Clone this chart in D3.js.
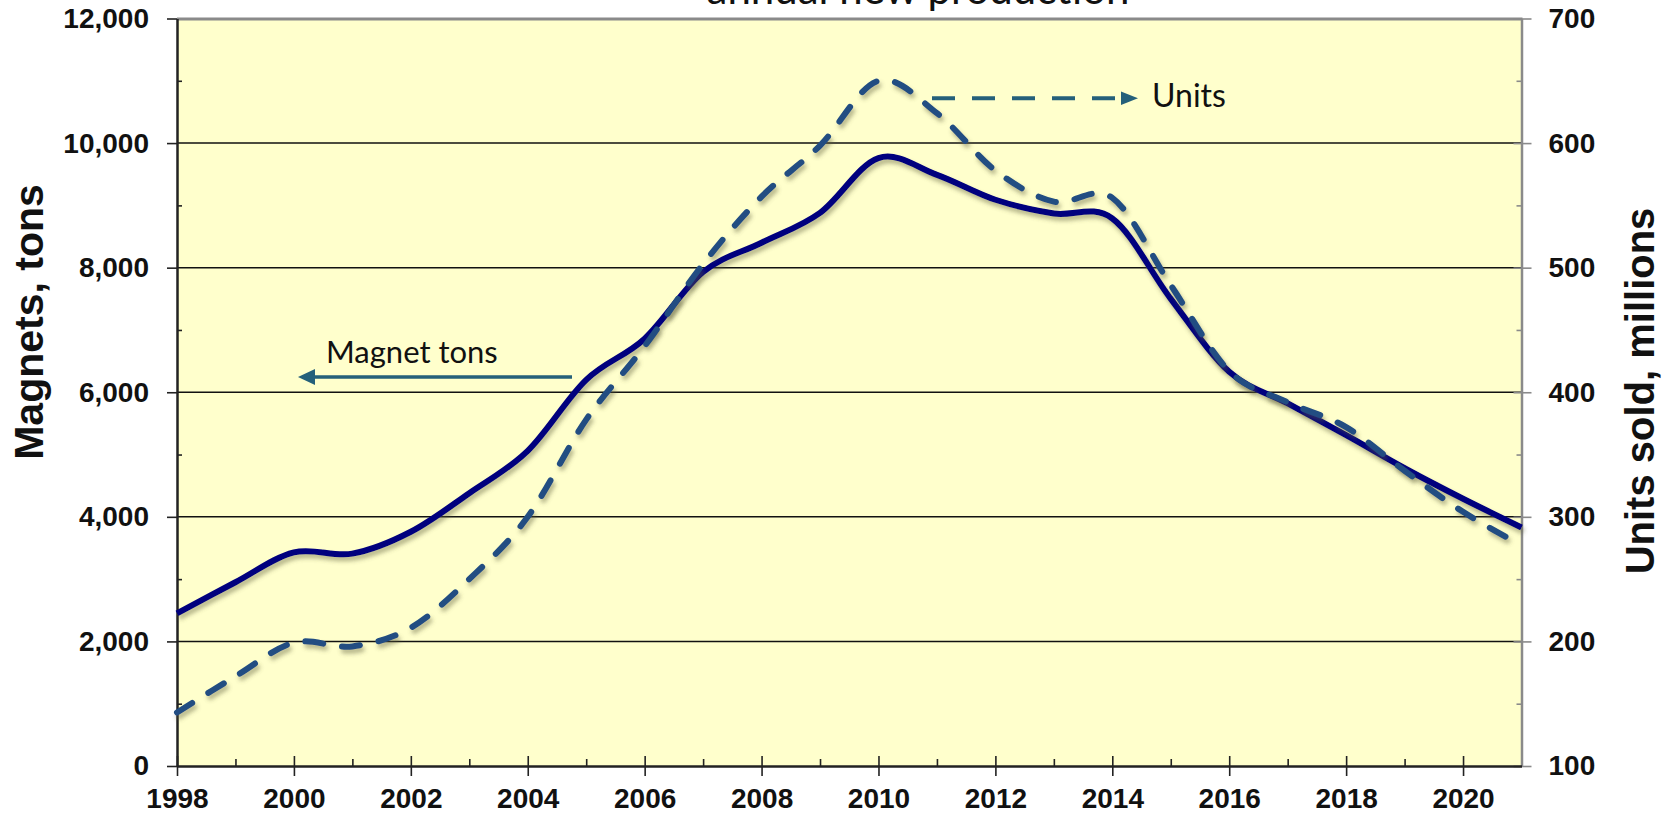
<!DOCTYPE html>
<html>
<head>
<meta charset="utf-8">
<script src="https://cdn.jsdelivr.net/npm/d3@7"></script>
<style>
  html, body { margin: 0; padding: 0; background: #ffffff; }
  svg { display: block; }
</style>
</head>
<body>
<svg id="chart" width="1673" height="816"></svg>
<script>
// ---------------- data ----------------
const years = [1998,1999,2000,2001,2002,2003,2004,2005,2006,2007,2008,2009,2010,2011,2012,2013,2014,2015,2016,2017,2018,2019,2020,2021];
const magnetTons = [2450,2950,3430,3410,3760,4380,5060,6200,6860,7930,8400,8880,9760,9490,9090,8870,8790,7500,6330,5820,5310,4780,4290,3830];
const unitsSold = [143,172,199,196,211,250,300,378,437,503,557,598,650,624,578,553,556,486,417,392,372,337,304,277];
const tonTicks = [0,2000,4000,6000,8000,10000,12000];
const tonMinorTicks = [1000,3000,5000,7000,9000,11000];
const unitTicks = [100,200,300,400,500,600,700];
const unitMinorTicks = [150,250,350,450,550,650];
const yearTicks = [1998,2000,2002,2004,2006,2008,2010,2012,2014,2016,2018,2020];
const titleText = "annual new production";
const leftTitle = "Magnets, tons";
const rightTitle = "Units sold, millions";
const magnetLabel = "Magnet tons";
const unitsLabel = "Units";

// ---------------- layout ----------------
const L = 177, R = 1521.5, T = 18.5, B = 766;
const svg = d3.select("#chart");

const x = d3.scaleLinear().domain([1998, 2021]).range([L, R]);
const y = d3.scaleLinear().domain([0, 12000]).range([B, T]);
const y2 = d3.scaleLinear().domain([100, 700]).range([B, T]);

const defs = svg.append("defs");
const f = defs.append("filter").attr("id", "shadow")
  .attr("x", "-5%").attr("y", "-5%").attr("width", "110%").attr("height", "115%");
f.append("feGaussianBlur").attr("in", "SourceAlpha").attr("stdDeviation", 2.2).attr("result", "b");
f.append("feOffset").attr("in", "b").attr("dx", 2).attr("dy", 3.5).attr("result", "o");
f.append("feFlood").attr("flood-color", "#5e5e3a").attr("flood-opacity", 0.45).attr("result", "c");
f.append("feComposite").attr("in", "c").attr("in2", "o").attr("operator", "in").attr("result", "s");
const m = f.append("feMerge");
m.append("feMergeNode").attr("in", "s");
m.append("feMergeNode").attr("in", "SourceGraphic");

// plot background
svg.append("rect").attr("x", L).attr("y", T).attr("width", R - L).attr("height", B - T)
  .attr("fill", "#ffffcc");

// title (cut off at top like the reference)
svg.append("text").attr("x", 918).attr("y", 4).attr("text-anchor", "middle")
  .attr("font-family", "Lato, 'Open Sans', sans-serif").attr("font-size", 42)
  .attr("fill", "#111").text(titleText);

// gridlines
svg.append("g").selectAll("line").data(tonTicks.filter(d => d > 0 && d < 12000)).join("line")
  .attr("x1", L).attr("x2", R).attr("y1", d => y(d)).attr("y2", d => y(d))
  .attr("stroke", "#111").attr("stroke-width", 1.5);

// top border
svg.append("line").attr("x1", L).attr("x2", R + 1).attr("y1", T + 0.5).attr("y2", T + 0.5)
  .attr("stroke", "#8a8a8a").attr("stroke-width", 3);

const tickFont = "'Liberation Sans', Arial, sans-serif";

function styleAxis(g, color, width) {
  g.select(".domain").attr("stroke", color).attr("stroke-width", width);
  g.selectAll(".tick line").attr("stroke", color).attr("stroke-width", 1.6);
  g.selectAll(".tick text").attr("font-family", tickFont).attr("font-weight", "bold")
    .attr("font-size", 28).attr("fill", "#111");
}

// right axis (grey)
const gR = svg.append("g").attr("transform", `translate(${R},0)`)
  .call(d3.axisRight(y2).tickValues(unitTicks).tickSize(10).tickSizeOuter(0).tickPadding(17));
styleAxis(gR, "#8a8a8a", 2.5);
gR.append("g").call(d3.axisLeft(y2).tickValues(unitTicks).tickSize(8).tickFormat("")).call(g => {
  g.select(".domain").remove(); g.selectAll("line").attr("stroke", "#8a8a8a").attr("stroke-width", 1.6);
});
gR.append("g").call(d3.axisLeft(y2).tickValues(unitMinorTicks).tickSize(5).tickFormat("")).call(g => {
  g.select(".domain").remove(); g.selectAll("line").attr("stroke", "#8a8a8a").attr("stroke-width", 1.6);
});

// left axis
const gL = svg.append("g").attr("transform", `translate(${L},0)`)
  .call(d3.axisLeft(y).tickValues(tonTicks).tickSize(10).tickSizeOuter(0).tickPadding(18)
    .tickFormat(d3.format(",")));
styleAxis(gL, "#222", 2.5);
gL.append("g").call(d3.axisRight(y).tickValues(tonMinorTicks).tickSize(5).tickFormat("")).call(g => {
  g.select(".domain").remove(); g.selectAll("line").attr("stroke", "#222").attr("stroke-width", 1.6);
});

// bottom axis
const gB = svg.append("g").attr("transform", `translate(0,${B})`)
  .call(d3.axisBottom(x).tickValues(yearTicks).tickSize(10).tickSizeOuter(0).tickPadding(12)
    .tickFormat(d3.format("d")));
styleAxis(gB, "#222", 2.5);
gB.append("g").call(d3.axisTop(x).tickValues(years.slice(0, 23)).tickSize(0).tickFormat("")).call(g => {
  g.select(".domain").remove();
  g.selectAll(".tick line").attr("y2", d => (d % 2 === 0 ? -10 : -7))
    .attr("stroke", "#222").attr("stroke-width", 1.6);
});

// axis titles
svg.append("text").attr("transform", `translate(43,322) rotate(-90)`).attr("text-anchor", "middle")
  .attr("font-family", tickFont).attr("font-weight", "bold").attr("font-size", 41)
  .attr("fill", "#111").text(leftTitle);
svg.append("text").attr("transform", `translate(1654,391) rotate(-90)`).attr("text-anchor", "middle")
  .attr("font-family", tickFont).attr("font-weight", "bold").attr("font-size", 40)
  .attr("fill", "#111").text(rightTitle);

// lines
const curve = d3.curveCardinal.tension(0);
const lineTons = d3.line().x((d, i) => x(years[i])).y(d => y(d)).curve(curve);
const lineUnits = d3.line().x((d, i) => x(years[i])).y(d => y2(d)).curve(curve);

svg.append("path").datum(magnetTons).attr("d", lineTons)
  .attr("fill", "none").attr("stroke", "#02027e").attr("stroke-width", 6)
  .attr("stroke-linejoin", "round").attr("filter", "url(#shadow)");

svg.append("path").datum(unitsSold).attr("d", lineUnits)
  .attr("fill", "none").attr("stroke", "#204d82").attr("stroke-width", 6)
  .attr("stroke-linecap", "round").attr("stroke-dasharray", "18,19")
  .attr("filter", "url(#shadow)");

// annotations
const annColor = "#25607a";
const annFont = "Lato, 'Open Sans', sans-serif";
svg.append("text").attr("x", 326).attr("y", 362.5).attr("font-family", annFont)
  .attr("font-size", 31).attr("fill", "#111").text(magnetLabel);
svg.append("line").attr("x1", 572).attr("x2", 312).attr("y1", 377).attr("y2", 377)
  .attr("stroke", annColor).attr("stroke-width", 3.5);
svg.append("path").attr("d", d3.line()([[298, 377], [315, 369], [315, 385]]) + "Z").attr("fill", annColor);

svg.append("line").attr("x1", 932).attr("x2", 1122).attr("y1", 98.3).attr("y2", 98.3)
  .attr("stroke", annColor).attr("stroke-width", 4).attr("stroke-dasharray", "23,17");
svg.append("path").attr("d", d3.line()([[1138, 98.3], [1121, 91.5], [1121, 105]]) + "Z").attr("fill", annColor);
svg.append("text").attr("x", 1152).attr("y", 106.5).attr("font-family", annFont)
  .attr("font-size", 32).attr("fill", "#111").text(unitsLabel);
</script>
</body>
</html>
